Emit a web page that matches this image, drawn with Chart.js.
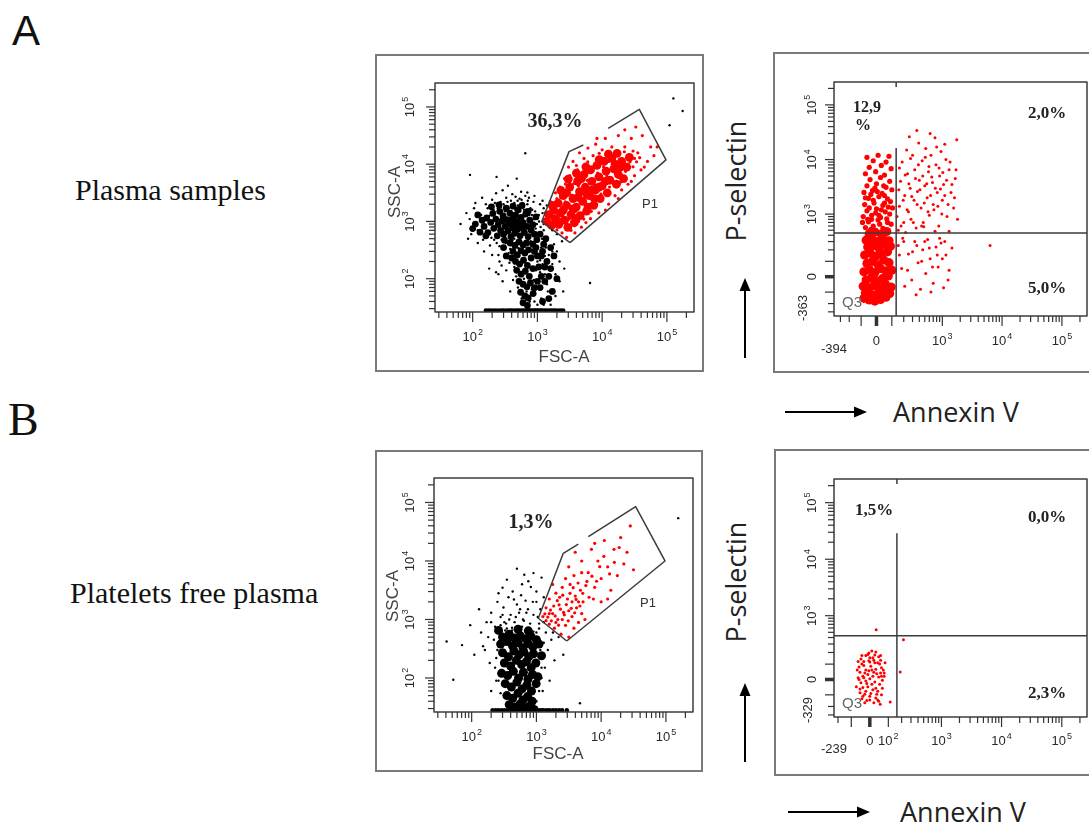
<!DOCTYPE html>
<html>
<head>
<meta charset="utf-8">
<script src="https://cdn.jsdelivr.net/npm/chart.js@4.4.1/dist/chart.umd.min.js"></script>
<style>
  html, body { margin: 0; padding: 0; background: #fff; }
  body { position: relative; width: 1089px; height: 823px; overflow: hidden; }
  .panel { position: absolute; box-sizing: border-box; border: 2px solid #7a7a7a; }
  .panel canvas { display: block; }
  #labels { position: absolute; left: 0; top: 0; }
</style>
</head>
<body>
<svg id="labels" width="1089" height="823">
  <g fill="#111">
    <text x="12" y="45" font-family="'Liberation Sans', Arial, sans-serif" font-size="42">A</text>
    <text x="8" y="435" font-family="'Liberation Serif', 'Times New Roman', serif" font-size="46">B</text>
    <text x="75" y="200" font-family="'Liberation Serif', 'Times New Roman', serif" font-size="30">Plasma samples</text>
    <text x="70" y="603" font-family="'Liberation Serif', 'Times New Roman', serif" font-size="30">Platelets free plasma</text>
  </g>
  <g fill="#222" font-family="'Open Sans', sans-serif" font-size="27">
    <text transform="translate(746,181) rotate(-90)" text-anchor="middle">P-selectin</text>
    <text transform="translate(746,582) rotate(-90)" text-anchor="middle">P-selectin</text>
    <text x="893" y="422">Annexin V</text>
    <text x="900" y="822">Annexin V</text>
  </g>
  <g stroke="#000" stroke-width="2" fill="#000">
    <line x1="745" y1="358" x2="745" y2="289"/>
    <polygon points="745,278 739.5,291 750.5,291" stroke="none"/>
    <line x1="745" y1="762" x2="745" y2="694"/>
    <polygon points="745,683 739.5,696 750.5,696" stroke="none"/>
    <line x1="785" y1="412" x2="856" y2="412"/>
    <polygon points="867,412 854,406.5 854,417.5" stroke="none"/>
    <line x1="788" y1="812" x2="858" y2="812"/>
    <polygon points="870,812 857,806.5 857,817.5" stroke="none"/>
  </g>
</svg>

<div class="panel" style="left:375px;top:54px;width:329px;height:318px"><canvas id="plasmaFsc" width="325" height="314"></canvas></div>
<div class="panel" style="left:773px;top:52px;width:330px;height:321px"><canvas id="plasmaAnnexin" width="326" height="317"></canvas></div>
<div class="panel" style="left:375px;top:450px;width:328px;height:322px"><canvas id="pfpFsc" width="324" height="318"></canvas></div>
<div class="panel" style="left:774px;top:449px;width:330px;height:327px"><canvas id="pfpAnnexin" width="326" height="323"></canvas></div>

<script>
// ---- axis ranges and labelled ticks ----
const scatterRange = [26.2, 262144];
const decadeLabels = [100, 1000, 10000, 100000];
const plasmaAnnexinLabels = [-394, 0, 1000, 10000, 100000];
const plasmaPselLabels = [-363, 0, 1000, 10000, 100000];
const pfpAnnexinLabels = [-239, 0, 100, 1000, 10000, 100000];
const pfpPselLabels = [-329, 0, 1000, 10000, 100000];

// ---- plasma samples: FSC-A / SSC-A ----
const plasmaDebrisCore = [
  [150, 820], [165, 1150], [172, 640], [190, 960], [205, 1380], [212, 760], [228, 1100], [240, 560],
  [248, 880], [262, 1500], [270, 700], [285, 1020], [295, 1250], [300, 600], [318, 820], [330, 1700],
  [338, 1080], [350, 680], [362, 930], [375, 1400], [390, 540], [400, 780], [415, 1150], [430, 900],
  [445, 620], [460, 1300], [478, 1000], [490, 720], [505, 1600], [520, 850], [540, 560], [560, 1180],
  [585, 760], [600, 950], [630, 640], [660, 1350], [690, 820], [720, 540], [760, 1050], [800, 700],
  [850, 880], [900, 600], [195, 1800], [310, 470], [420, 1850], [255, 1950], [580, 1900], [720, 1500],
  [950, 1200], [160, 560],
  [380, 420], [450, 380], [520, 440], [600, 390], [680, 420], [420, 300], [490, 260], [560, 310],
  [640, 280], [730, 320], [460, 200], [530, 180], [610, 210], [700, 170], [800, 230], [480, 140],
  [560, 120], [650, 135], [750, 110], [520, 90], [600, 80], [690, 72], [780, 85], [550, 58],
  [640, 50], [720, 46], [860, 55], [600, 38], [700, 34], [900, 300], [980, 480], [850, 150],
  [400, 230], [1000, 90], [1100, 600], [1150, 250], [1300, 160], [1250, 400], [1500, 110], [1100, 70],
  [1200, 300], [1400, 200], [1600, 150], [1300, 90], [1700, 60], [1500, 45], [1200, 40], [1800, 250],
  [1350, 500], [1000, 250], [1050, 160], [1150, 110], [900, 70], [950, 350], [1600, 350], [2000, 100],
  [850, 400], [300, 350], [330, 250], [110, 900], [120, 1300], [130, 650], [140, 1050], [100, 750]
];
const plasmaDebrisFloor = [
  [160, 28], [175, 28], [190, 28], [210, 28], [230, 28], [255, 28], [280, 28], [300, 28], [330, 28],
  [360, 28], [385, 28], [410, 28], [450, 28], [485, 28], [520, 28], [560, 28], [600, 28], [640, 28],
  [680, 28], [720, 28], [760, 28], [800, 28], [850, 28], [900, 28], [950, 28], [1000, 28], [1060, 28],
  [1130, 28], [1200, 28], [1300, 28], [1400, 28], [1520, 28], [1650, 28], [1780, 28], [1900, 28],
  [2100, 28], [2300, 28], [2500, 28]
];
const plasmaDebrisSpread = [
  [65, 900], [80, 1400], [95, 600], [110, 2100], [120, 420], [130, 1100], [140, 2600], [150, 300],
  [170, 1700], [185, 380], [200, 2400], [215, 480], [230, 3100], [250, 260], [270, 2200], [290, 3500],
  [310, 330], [330, 2600], [350, 4200], [370, 190], [390, 2300], [410, 3000], [440, 500], [460, 2700],
  [480, 5600], [500, 1900], [530, 2500], [560, 3300], [590, 2100], [620, 1600], [650, 2800], [700, 2000],
  [740, 2600], [780, 1700], [820, 1300], [870, 2200], [920, 1500], [980, 900], [1050, 1300], [1120, 800],
  [1180, 500], [1250, 700], [1350, 350], [1500, 260], [1700, 180], [1900, 120], [2200, 90], [2600, 150],
  [1100, 210], [1300, 120], [950, 65], [1150, 45], [420, 95], [380, 60], [330, 140], [290, 90],
  [260, 200], [230, 130], [200, 260], [180, 150], [650, 15500], [91, 6500], [234, 6000], [6500, 84],
  [126000, 141000], [175000, 85000], [110000, 48000], [1200, 1400], [1250, 900], [1700, 700], [1400, 1900],
  [1200, 2300], [1250, 1700], [2000, 600], [2400, 450], [1800, 400],
  [120, 700], [135, 1300], [145, 480], [160, 2000], [175, 620], [180, 1250], [195, 520], [210, 1600],
  [220, 2100], [235, 420], [245, 1700], [260, 370], [275, 1800], [280, 480], [300, 2000], [315, 1500],
  [325, 420], [345, 2200], [360, 1700], [380, 330], [395, 1900], [410, 470], [440, 2100], [455, 1600],
  [470, 430], [495, 2300], [510, 340], [540, 1500], [570, 2400], [610, 1800], [640, 360], [670, 1600],
  [710, 2300], [750, 1300], [790, 450], [830, 1600], [880, 1100], [940, 750], [1000, 500], [1060, 1000],
  [1150, 350], [1200, 180], [1000, 200], [950, 140], [880, 95], [820, 65], [760, 40], [680, 60],
  [620, 100], [570, 45], [500, 70], [470, 110], [440, 160], [410, 420], [360, 280], [340, 230],
  [900, 40], [1000, 35], [1100, 130], [1300, 250], [1400, 80],
  [2000, 300], [1900, 50], [2200, 200], [1700, 300], [1450, 60], [1600, 35], [1250, 35], [2500, 60],
  [280, 170], [250, 120], [90, 1100], [85, 500], [105, 1700], [700, 3200], [900, 2800], [1100, 2000]
];
const plasmaP1Core = [
  [1400, 1000], [1510, 1320], [1660, 850], [1780, 1580], [1900, 1120], [2090, 2090], [2140, 890], [2290, 1410],
  [2510, 2820], [2630, 1050], [2820, 1900], [2950, 790], [3160, 3980], [3310, 1320], [3550, 2510], [3720, 950],
  [3980, 1780], [4170, 5010], [4470, 3310], [4570, 1260], [5010, 2240], [5250, 6610], [5500, 3980], [5750, 1510],
  [6310, 2820], [6610, 7940], [6920, 5010], [7410, 1910], [7940, 3550], [8320, 9550], [8910, 6030], [9330, 2510],
  [10000, 4170], [10700, 11200], [11500, 7590], [12000, 3160], [13200, 5250], [14100, 12600], [15100, 8320],
  [16600, 4470], [17800, 6610], [20000, 11200], [21400, 5620], [24000, 8910], [26300, 13200], [3550, 1660],
  [4790, 5620], [6030, 1780], [7590, 2510], [15800, 10000], [19100, 8910], [2820, 3160], [3980, 1120],
  [8910, 3980], [11200, 5010], [5620, 3160], [7080, 3550], [4270, 2630], [2510, 1580],
  [1700, 1900], [2300, 3500], [3000, 5500], [4000, 7000], [5600, 9000], [9000, 12000], [12500, 15000],
  [17000, 15500]
];
const plasmaP1Spread = [
  [1260, 1000], [1320, 1410], [1580, 2240], [1900, 3160], [2000, 710], [2240, 3980], [2400, 630], [2630, 5620],
  [2820, 525], [3020, 8910], [3550, 11200], [3800, 630], [4170, 7940], [4470, 15800], [4790, 794], [5250, 12600],
  [6030, 19100], [6610, 1120], [7240, 14100], [7940, 22400], [8910, 1410], [10000, 17800], [11200, 28200],
  [12600, 2000], [14100, 20000], [15800, 2820], [17800, 31600], [20000, 3550], [22400, 20000], [25100, 4470],
  [28200, 28200], [31600, 6310], [35500, 15800], [39800, 7940], [41700, 31600], [50100, 11200], [56200, 20000],
  [63100, 14100], [33100, 44700], [22400, 39800], [5620, 955], [8320, 28200], [11200, 1580], [17800, 2510],
  [28200, 5010], [44700, 8910], [70800, 20000], [25100, 10000], [31600, 12600], [12600, 11200], [8910, 12600],
  [3980, 5620], [3160, 6310], [1580, 1780], [2000, 2500],
  [1450, 1200], [1700, 1100], [1850, 1900], [2050, 1400], [2300, 2600], [2450, 1200], [2700, 2200], [2900, 3600],
  [3100, 1100], [3400, 2900], [3650, 4600], [3900, 1500], [4300, 4200], [4600, 2400], [4900, 6800], [5400, 2700],
  [5900, 5200], [6500, 3300], [7000, 9000], [7700, 4300], [8500, 7000], [9600, 3000], [10500, 9000], [11800, 6200],
  [13000, 4000], [14500, 10500], [16000, 7000], [18500, 12000], [19000, 4800], [23000, 7500], [27000, 11000],
  [30000, 9000], [34000, 11000], [38000, 13000], [9000, 15500], [6000, 11000], [4000, 9500], [2700, 4500],
  [2200, 1100], [3300, 700], [4300, 1000], [5200, 1100], [6800, 1500], [8200, 2000], [22000, 16500], [30000, 17000]
];
// P1 outline, drawn as two strokes (the outline is open near the top)
const plasmaP1Gate = [
  [[3190, 426], [1165, 991], [3080, 16600], [5120, 21700]],
  [[12400, 42400], [37500, 91000], [96800, 11900], [3190, 426]]
];

// ---- plasma samples: Annexin V / P-selectin of P1 ----
const plasmaAnnexinCore = [
  [-80, -150], [-45, -165], [-10, -175], [25, -160], [60, -140], [-70, -105], [-30, -120], [10, -110],
  [45, -95], [85, -110], [-85, -60], [-50, -70], [-15, -55], [20, -75], [55, -45], [95, -65],
  [-65, -20], [-30, -5], [5, -25], [40, -10], [75, 5], [-80, 30], [-45, 45], [-10, 25],
  [25, 50], [60, 35], [100, 40], [-60, 85], [-25, 100], [10, 75], [45, 110], [80, 90],
  [-75, 150], [-40, 170], [-5, 140], [30, 165], [70, 180], [-55, 230], [-20, 250], [15, 220],
  [55, 260], [90, 240], [-65, 320], [-30, 350], [5, 300], [40, 340], [80, 310], [-45, 430],
  [-10, 460], [30, 420], [65, 470]
];
const plasmaAnnexinColumn = [
  [-70, 560], [-20, 600], [40, 540], [95, 650], [-50, 720], [10, 780], [70, 700], [-85, 900],
  [-30, 950], [25, 870], [85, 1000], [-60, 1150], [0, 1250], [55, 1100], [105, 1300], [-75, 1500],
  [-15, 1600], [40, 1450], [90, 1700], [-50, 1950], [15, 2100], [70, 1900], [-80, 2500], [-25, 2700],
  [35, 2400], [100, 2800], [-60, 3300], [0, 3600], [60, 3100], [-40, 4300], [25, 4700], [85, 4000],
  [-70, 5500], [-5, 6000], [50, 5200], [-45, 7200], [30, 7800], [95, 6800], [-20, 9500], [60, 9000],
  [-60, 11000], [10, 12000], [80, 11500], [-30, 800], [50, 1600], [-10, 3000], [-35, 520], [20, 650],
  [75, 1350], [-90, 700], [-55, 800], [15, 950], [65, 820], [-5, 1050], [-45, 1300], [30, 1200],
  [-20, 1800], [50, 2200], [-70, 2000], [5, 2600], [45, 3300], [-35, 2300]
];
const plasmaAnnexinSpread = [
  [150, 500], [160, 1400], [170, 4000], [185, 9000], [200, 700], [210, 2200], [230, 15000], [240, 5500],
  [250, 1100], [270, 3000], [280, 800], [300, 12000], [320, 1800], [330, 6500], [350, 550], [370, 2600],
  [390, 20000], [400, 4200], [430, 1300], [450, 9500], [470, 700], [500, 3300], [520, 16000], [550, 2000],
  [580, 6000], [600, 950], [640, 12000], [680, 3800], [700, 1500], [750, 25000], [780, 8000], [820, 2500],
  [870, 600], [900, 5000], [950, 14000], [1000, 1800], [1050, 3500], [1150, 10000], [1200, 900], [1300, 6500],
  [1400, 2500], [1550, 1300], [1650, 4500], [1800, 800], [360, 34000], [1750, 23000], [260, 26000], [1100, 19000],
  [620, 30000], [160, 7000], [220, 450], [480, 580], [750, 480], [1300, 480],
  [150, 250], [180, 50], [210, -60], [250, 160], [290, -20], [330, 300], [380, 90], [420, -80],
  [460, 200], [520, 20], [560, 330], [620, 120], [700, -40], [780, 230], [850, 60], [950, 280],
  [1050, -70], [1150, 150], [1300, 40], [1450, 220], [190, 350], [350, -120], [640, -100], [900, 350],
  [1000, 120], [6300, 250],
  [140, 900], [155, 2800], [175, 600], [195, 1800], [215, 5200], [235, 1200], [255, 3600], [275, 10500],
  [290, 2100], [310, 700], [340, 4500], [365, 1500], [385, 8000], [410, 2800], [440, 600], [460, 5000],
  [490, 1600], [510, 11000], [540, 3600], [570, 1100], [590, 7500], [630, 2200], [660, 4800], [720, 1200],
  [760, 3000], [800, 17000], [840, 1400], [880, 7000], [930, 2900], [980, 1000], [1020, 5800], [1100, 2200],
  [1180, 4200], [1250, 1500], [1350, 9000], [1450, 3500], [1600, 2000], [1700, 6500], [160, 150], [200, 300],
  [240, 40], [300, 180], [360, 250], [440, 100], [500, 300], [600, 220], [680, 60], [820, 150],
  [1100, 300], [1250, -20]
];
// Annexin V threshold, P-selectin threshold, top of the vertical divider
const plasmaQuadrant = [133, 444, 16300];
const plasmaQuadrantPct = ['12,9', '2,0%', '5,0%'];

// ---- platelets free plasma: FSC-A / SSC-A ----
const pfpDebrisCore = [
  [300, 500], [380, 560], [460, 480], [560, 530], [680, 470], [820, 520], [1000, 450],
  [280, 380], [350, 420], [430, 350], [520, 400], [620, 330], [740, 390], [880, 340], [1100, 380],
  [300, 270], [370, 230], [450, 290], [540, 250], [640, 280], [760, 230], [900, 260], [1200, 240],
  [320, 180], [400, 160], [490, 200], [590, 170], [700, 190], [830, 150], [980, 180],
  [290, 120], [360, 110], [440, 130], [530, 100], [630, 125], [740, 95], [870, 115], [1050, 105],
  [330, 80], [410, 70], [500, 85], [600, 65], [710, 75], [840, 60], [990, 80],
  [350, 50], [430, 45], [520, 55], [620, 42], [730, 48], [860, 40], [380, 35], [470, 32],
  [560, 36], [660, 30], [780, 33], [920, 29], [260, 650], [520, 680], [750, 640]
];
const pfpDebrisFloor = [
  [210, 28], [235, 28], [260, 28], [290, 28], [320, 28], [355, 28], [390, 28], [430, 28], [470, 28],
  [515, 28], [560, 28], [610, 28], [660, 28], [720, 28], [780, 28], [850, 28], [920, 28], [1000, 28],
  [1100, 28], [1200, 28], [1300, 28], [1450, 28], [1600, 28], [1800, 28], [2000, 28], [2250, 28],
  [2500, 28], [2950, 28]
];
const pfpDebrisSpread = [
  [140, 600], [170, 900], [200, 1300], [230, 750], [250, 2000], [280, 1100], [310, 1600], [340, 850],
  [370, 2400], [400, 1200], [430, 3000], [460, 900], [500, 1800], [540, 1300], [580, 2600], [620, 1000],
  [680, 2100], [740, 1500], [820, 3600], [900, 1200], [1000, 2000], [1150, 1500], [1300, 900], [1100, 700],
  [1400, 600], [1500, 300], [1700, 450], [1900, 200], [1350, 150], [1600, 90], [1250, 60], [1800, 600],
  [1200, 5200], [650, 5800], [900, 6200], [500, 7400], [750, 4500], [300, 3500], [160, 300], [190, 180],
  [220, 450], [240, 90], [200, 60], [41, 420], [71, 365], [52, 93], [4700, 37], [155000, 54000],
  [110, 250], [130, 1500], [95, 800], [2200, 500], [2600, 250], [1000, 3000], [600, 4000], [260, 2800],
  [350, 4800], [1300, 2400], [350, 700], [600, 750], [900, 620], [420, 650], [1100, 850], [280, 800],
  [330, 650], [420, 720], [560, 620], [700, 700], [850, 480], [1000, 600], [1150, 300], [1200, 150],
  [1100, 60], [250, 300], [230, 150], [260, 90], [270, 500], [240, 220], [1300, 400], [1200, 100],
  [1000, 40], [280, 55], [320, 900], [480, 1100], [640, 950], [800, 850], [380, 1000], [560, 1500],
  [700, 1300], [880, 2000], [450, 2200], [300, 1200], [200, 900], [180, 500], [150, 350], [1050, 1100]
];
const pfpP1Events = [
  [1260, 1120], [1410, 955], [1410, 1580], [1580, 830], [1580, 2240], [1780, 1260], [1900, 710], [2000, 2820],
  [2140, 1000], [2240, 1780], [2400, 560], [2510, 3550], [2630, 1320], [2820, 794], [3020, 2240], [3160, 500],
  [3310, 3980], [3550, 1120], [3800, 710], [3980, 2510], [4170, 1580], [4470, 890], [4790, 3160], [5010, 1260],
  [5250, 2000], [5620, 1000], [6030, 4470], [1780, 3980], [2000, 890], [2820, 5010], [3800, 5620], [2510, 1000],
  [3550, 2000], [1580, 1260], [2290, 2400], [3160, 1410], [4470, 2000],
  [3160, 7940], [3980, 14100], [5010, 10000], [6310, 6310], [7080, 15800], [7940, 3550], [8910, 10000],
  [10000, 5010], [11200, 22400], [12600, 7940], [14100, 3160], [15800, 15800], [17800, 5620], [20000, 25100],
  [22400, 8910], [25100, 14100], [31600, 7080], [28200, 39800], [7590, 2240], [10000, 2000], [5010, 6310],
  [7940, 20000], [12600, 2240],
  [1350, 1250], [1500, 1100], [1650, 1450], [1700, 950], [1850, 1700], [1950, 1150], [2100, 2100], [2200, 800],
  [2350, 1500], [2550, 2600], [2700, 1200], [2900, 1800], [3100, 950], [3300, 2800], [3450, 1550], [3700, 3500],
  [3900, 1300], [4100, 2200], [4400, 4200], [4700, 1700], [5200, 2800], [5800, 3800], [6500, 2400], [7200, 5500],
  [8500, 4500], [9500, 8000], [11000, 12000], [13500, 6000], [16000, 9500], [19000, 17000]
];
const pfpP1Gate = [
  [[2940, 429], [1070, 1050], [2600, 13500], [4440, 19500]],
  [[6340, 26000], [34100, 84700], [96800, 10000], [2940, 429]]
];

// ---- platelets free plasma: Annexin V / P-selectin of P1 ----
const pfpAnnexinEvents = [
  [-30, 90], [-5, 125], [15, 150], [40, 110], [60, 75], [-50, 45], [-20, 60], [5, 85],
  [30, 65], [55, 40], [75, 20], [-60, 10], [-35, 20], [-10, 30], [20, 45], [45, 15],
  [65, -5], [-45, -20], [-20, -10], [0, 5], [25, -15], [50, -30], [-35, -50], [-10, -45],
  [15, -65], [40, -75], [-50, -85], [-25, -95], [0, -110], [30, -125], [60, -100], [-15, -145],
  [20, -165], [-40, 170], [-5, 195], [30, 205], [55, 170], [-60, 120], [80, 110], [-70, -45],
  [-30, 120], [0, 115], [45, 160], [-5, 55], [15, 20], [-20, -75], [10, -30], [50, 100],
  [-55, 80], [70, 60], [-40, -130], [45, -150], [0, 150], [35, -95], [-30, 10], [25, 110],
  [-45, 140], [65, -55], [-20, 170], [10, 215],
  [-25, 40], [10, 60], [35, 35], [-40, 100], [20, 130], [-15, -25], [5, -90], [-35, -110],
  [30, -55], [55, 130], [-55, 0], [60, 20], [-10, 180], [40, -140], [-25, -165], [75, 40],
  [-65, 60], [0, -140], [25, 175], [-50, -60],
  [32, 560], [217, 363], [187, 47], [112, -158], [53, -178]
];
const pfpQuadrant = [160, 432, 28800];
const pfpQuadrantPct = ['1,5%', '0,0%', '2,3%'];

// ---- drawing helpers ----
const SANS = '"Liberation Sans", Arial, sans-serif';
const SERIF = '"Liberation Serif", "Times New Roman", serif';
const RED = '#ff0000';

// biexponential (arcsinh) display, linear around zero and logarithmic above a few hundred
class BiexScale extends Chart.Scale {
  static id = 'biex';
  static defaults = {};

  determineDataLimits() {
    this.min = this.options.min;
    this.max = this.options.max;
  }
  buildTicks() {
    return [];
  }
  toDecades(v) {
    return Math.asinh(v / (2 * this.options.linWidth)) / Math.LN10;
  }
  configure() {
    super.configure();
    this._tLo = this.toDecades(this.min);
    this._tHi = this.toDecades(this.max);
  }
  getPixelForValue(v) {
    return this.getPixelForDecimal((this.toDecades(v) - this._tLo) / (this._tHi - this._tLo));
  }
  getValueForPixel(p) {
    const t = this._tLo + this.getDecimalForPixel(p) * (this._tHi - this._tLo);
    return 2 * this.options.linWidth * Math.sinh(t * Math.LN10);
  }
}
Chart.register(BiexScale);

function axisMarks(lo, hi, firstDecade) {
  const marks = [];
  for (let n = firstDecade; n <= 5; n++) {
    for (let k = 1; k <= 9; k++) {
      const v = k * 10 ** n;
      if (v >= lo && v <= hi) marks.push({ v, major: k === 1 });
      if (-v >= lo && -v <= hi) marks.push({ v: -v, major: k === 1 });
    }
  }
  if (lo < 0) marks.push({ v: 0, major: true, zero: true });
  return marks;
}

function powerParts(v) {
  if (v > 0) {
    const e = Math.round(Math.log10(v));
    if (10 ** e === v) return ['10', String(e)];
  }
  return [String(v), ''];
}

function tickLabel(ctx, v, x, y, vertical) {
  const [base, exp] = powerParts(v);
  ctx.font = '13px ' + SANS;
  const wb = ctx.measureText(base).width;
  ctx.font = '9px ' + SANS;
  const we = exp ? ctx.measureText(exp).width + 1 : 0;
  ctx.save();
  ctx.translate(x, y);
  if (vertical) ctx.rotate(-Math.PI / 2);
  const x0 = -(wb + we) / 2;
  ctx.textAlign = 'left';
  ctx.textBaseline = 'alphabetic';
  ctx.font = '13px ' + SANS;
  ctx.fillText(base, x0, 0);
  if (exp) {
    ctx.font = '9px ' + SANS;
    ctx.fillText(exp, x0 + wb + 1, -6);
  }
  ctx.restore();
}

function facsDecor(spec) {
  return {
    id: 'facsDecor',
    afterDatasetsDraw(chart) {
      const { ctx, chartArea: area } = chart;
      const sx = chart.scales.x, sy = chart.scales.y;
      const [ox, oy] = spec.origin;
      const off = spec.offsets;
      ctx.save();
      ctx.strokeStyle = '#3c3c3c';
      ctx.lineWidth = 1.5;
      ctx.lineJoin = 'round';

      (spec.gate || []).forEach(path => {
        ctx.beginPath();
        path.forEach(([vx, vy], i) => {
          const px = sx.getPixelForValue(vx), py = sy.getPixelForValue(vy);
          if (i) ctx.lineTo(px, py); else ctx.moveTo(px, py);
        });
        ctx.stroke();
      });

      if (spec.quadrant) {
        const [qx, qy, qTop] = spec.quadrant;
        const px = sx.getPixelForValue(qx), py = sy.getPixelForValue(qy);
        ctx.beginPath();
        ctx.moveTo(area.left, py);
        ctx.lineTo(area.right, py);
        ctx.moveTo(px, area.bottom);
        ctx.lineTo(px, sy.getPixelForValue(qTop));
        ctx.moveTo(px, area.top);
        ctx.lineTo(px, area.top + 5);
        ctx.stroke();
      }

      ctx.strokeRect(area.left, area.top, area.right - area.left, area.bottom - area.top);

      // tick marks
      ctx.strokeStyle = '#333';
      axisMarks(sx.min, sx.max, spec.firstDecade).forEach(m => {
        const p = sx.getPixelForValue(m.v);
        ctx.lineWidth = m.zero ? 3.5 : 1.2;
        ctx.beginPath();
        ctx.moveTo(p, area.bottom);
        ctx.lineTo(p, area.bottom + (m.major ? 10 : 6));
        ctx.stroke();
      });
      axisMarks(sy.min, sy.max, spec.firstDecade).forEach(m => {
        const p = sy.getPixelForValue(m.v);
        ctx.lineWidth = m.zero ? 3.5 : 1.2;
        ctx.beginPath();
        ctx.moveTo(area.left, p);
        ctx.lineTo(area.left - (m.major ? 9 : 6), p);
        ctx.stroke();
      });

      // tick labels
      ctx.fillStyle = '#2a2a2a';
      spec.xLabels.forEach(v => {
        const atMin = v === sx.min;
        tickLabel(ctx, v, sx.getPixelForValue(v), area.bottom + (atMin ? off.xMin : off.x), false);
      });
      spec.yLabels.forEach(v => {
        const atMin = v === sy.min;
        tickLabel(ctx, v, area.left - (atMin ? off.yMin : off.y),
          sy.getPixelForValue(v) - (atMin ? off.yShift : 0), true);
      });

      // titles, gate names, quadrant percentages
      spec.texts.forEach(t => {
        ctx.save();
        ctx.font = t.font;
        ctx.fillStyle = t.color;
        ctx.textAlign = t.align || 'left';
        ctx.translate(t.x - ox, t.y - oy);
        if (t.vertical) ctx.rotate(-Math.PI / 2);
        ctx.fillText(t.text, 0, 0);
        ctx.restore();
      });
      ctx.restore();
    }
  };
}

function buildPanel(spec) {
  new Chart(document.getElementById(spec.canvas), {
    type: 'scatter',
    data: {
      datasets: spec.layers.map(([data, color, radius]) => ({
        data: data,
        pointRadius: radius,
        pointHoverRadius: radius,
        pointBackgroundColor: color,
        pointBorderWidth: 0,
      })),
    },
    options: {
      responsive: false,
      animation: false,
      devicePixelRatio: 1,
      events: [],
      layout: { padding: spec.pad },
      plugins: {
        legend: { display: false },
        tooltip: { enabled: false },
      },
      scales: {
        x: Object.assign({ display: false, ticks: { display: false } }, spec.x),
        y: Object.assign({ display: false, ticks: { display: false } }, spec.y),
      },
    },
    plugins: [facsDecor(spec)],
  });
}

const pctFont = 'bold 17px ' + SERIF;

buildPanel({
  canvas: 'plasmaFsc', origin: [377, 56],
  pad: { left: 58, top: 27, right: 8, bottom: 58 },
  x: { type: 'logarithmic', min: scatterRange[0], max: scatterRange[1] },
  y: { type: 'logarithmic', min: scatterRange[0], max: scatterRange[1] },
  firstDecade: 1,
  layers: [
    [plasmaP1Core, RED, 4.4],
    [plasmaP1Spread, RED, 1.6],
    [plasmaDebrisFloor, '#000', 2.2],
    [plasmaDebrisCore, '#000', 3.4],
    [plasmaDebrisSpread, '#000', 1.2],
  ],
  gate: plasmaP1Gate,
  xLabels: decadeLabels, yLabels: decadeLabels,
  offsets: { x: 29, y: 21 },
  texts: [
    { text: '36,3%', x: 555, y: 127, font: 'bold 20px ' + SERIF, color: '#222', align: 'center' },
    { text: 'P1', x: 642, y: 208, font: '13px ' + SANS, color: '#333' },
    { text: 'FSC-A', x: 564, y: 362, font: '17px ' + SANS, color: '#444', align: 'center' },
    { text: 'SSC-A', x: 400, y: 192, font: '17px ' + SANS, color: '#444', align: 'center', vertical: true },
  ],
});

buildPanel({
  canvas: 'plasmaAnnexin', origin: [775, 54],
  pad: { left: 59, top: 28, right: 14, bottom: 55 },
  x: { type: 'biex', min: plasmaAnnexinLabels[0], max: scatterRange[1], linWidth: 80 },
  y: { type: 'biex', min: plasmaPselLabels[0], max: scatterRange[1], linWidth: 72 },
  firstDecade: 2,
  layers: [
    [plasmaAnnexinCore, RED, 4.6],
    [plasmaAnnexinColumn, RED, 2.6],
    [plasmaAnnexinSpread, RED, 1.5],
  ],
  quadrant: plasmaQuadrant,
  xLabels: plasmaAnnexinLabels, yLabels: plasmaPselLabels,
  offsets: { x: 29, xMin: 37, y: 18, yMin: 27, yShift: 8 },
  texts: [
    { text: plasmaQuadrantPct[0], x: 853, y: 112, font: 'bold 16px ' + SERIF, color: '#222' },
    { text: '%', x: 855, y: 130, font: 'bold 16px ' + SERIF, color: '#222' },
    { text: plasmaQuadrantPct[1], x: 1028, y: 118, font: pctFont, color: '#222' },
    { text: plasmaQuadrantPct[2], x: 1028, y: 293, font: pctFont, color: '#222' },
    { text: 'Q3', x: 842, y: 307, font: '15px ' + SANS, color: '#666' },
  ],
});

buildPanel({
  canvas: 'pfpFsc', origin: [377, 452],
  pad: { left: 57, top: 26, right: 8, bottom: 58 },
  x: { type: 'logarithmic', min: scatterRange[0], max: scatterRange[1] },
  y: { type: 'logarithmic', min: scatterRange[0], max: scatterRange[1] },
  firstDecade: 1,
  layers: [
    [pfpP1Events, RED, 1.6],
    [pfpDebrisFloor, '#000', 2.2],
    [pfpDebrisCore, '#000', 4.5],
    [pfpDebrisSpread, '#000', 1.2],
  ],
  gate: pfpP1Gate,
  xLabels: decadeLabels, yLabels: decadeLabels,
  offsets: { x: 29, y: 20 },
  texts: [
    { text: '1,3%', x: 531, y: 528, font: 'bold 20px ' + SERIF, color: '#222', align: 'center' },
    { text: 'P1', x: 640, y: 607, font: '13px ' + SANS, color: '#333' },
    { text: 'FSC-A', x: 558, y: 759, font: '17px ' + SANS, color: '#444', align: 'center' },
    { text: 'SSC-A', x: 398, y: 596, font: '17px ' + SANS, color: '#444', align: 'center', vertical: true },
  ],
});

buildPanel({
  canvas: 'pfpAnnexin', origin: [776, 451],
  pad: { left: 58, top: 28, right: 15, bottom: 57 },
  x: { type: 'biex', min: pfpAnnexinLabels[0], max: scatterRange[1], linWidth: 65 },
  y: { type: 'biex', min: pfpPselLabels[0], max: scatterRange[1], linWidth: 75 },
  firstDecade: 2,
  layers: [
    [pfpAnnexinEvents, RED, 1.5],
  ],
  quadrant: pfpQuadrant,
  xLabels: pfpAnnexinLabels, yLabels: pfpPselLabels,
  offsets: { x: 28, xMin: 36, y: 18, yMin: 22, yShift: 7 },
  texts: [
    { text: pfpQuadrantPct[0], x: 855, y: 515, font: pctFont, color: '#222' },
    { text: pfpQuadrantPct[1], x: 1028, y: 522, font: pctFont, color: '#222' },
    { text: pfpQuadrantPct[2], x: 1028, y: 698, font: pctFont, color: '#222' },
    { text: 'Q3', x: 842, y: 708, font: '15px ' + SANS, color: '#666' },
  ],
});
</script>
</body>
</html>
